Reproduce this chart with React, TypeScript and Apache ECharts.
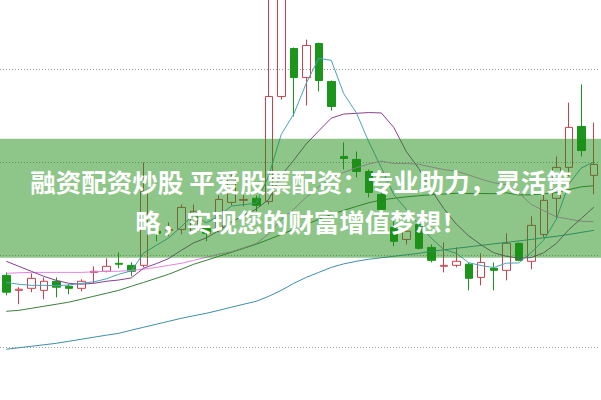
import React, { useEffect, useRef } from "react";
import * as echarts from "echarts";

const categories = [
  "03-01", "03-02", "03-03", "03-06", "03-07", "03-08", "03-09", "03-10",
  "03-13", "03-14", "03-15", "03-16", "03-17", "03-20", "03-21", "03-22",
  "03-23", "03-24", "03-27", "03-28", "03-29", "03-30", "03-31", "04-03",
  "04-04", "04-06", "04-07", "04-10", "04-11", "04-12", "04-13", "04-14",
  "04-17", "04-18", "04-19", "04-20", "04-21", "04-24", "04-25", "04-26",
  "04-27", "04-28", "05-04", "05-05", "05-08", "05-09", "05-10", "05-11",
];

const openValues = [
  23.89, 23.08, 23.19, 23.08, 23.57, 23.3, 23.19, 24.05, 24.11, 24.54, 24.43, 24.43,
  26.27, 26.32, 26.37, 26.27, 26.43, 26.37, 27.83, 27.94, 28.05, 27.88, 33.55, 36.14,
  34.57, 36.41, 34.36, 30.31, 30.15, 29.5, 28.26, 26.48, 25.83, 26.64, 25.4, 24.38,
  24.43, 24.49, 23.78, 24.27, 24.16, 25.62, 24.65, 26.1, 28.05, 29.72, 31.93, 29.29,
];
const closeValues = [
  22.98, 23.14, 23.73, 23.57, 23.25, 23.19, 23.57, 24.11, 24.38, 24.49, 24.11, 28.42,
  26.16, 26.37, 27.56, 27.35, 26.16, 27.99, 29.07, 27.99, 27.67, 33.55, 39.21, 34.57,
  36.3, 34.41, 33.01, 30.2, 29.5, 28.37, 27.45, 25.73, 26.27, 25.35, 24.7, 24.43,
  24.65, 23.73, 24.59, 24.16, 25.62, 24.7, 26.59, 27.94, 29.72, 31.88, 30.63, 29.88,
];
const lowValues = [
  22.81, 22.33, 22.98, 22.6, 22.7, 22.87, 23.03, 23.46, 24.05, 24.27, 23.84, 24.32,
  25.73, 26.0, 26.1, 26.16, 25.73, 26.21, 27.67, 27.61, 27.34, 27.72, 33.38, 32.47,
  33.06, 33.82, 32.79, 29.61, 29.18, 28.1, 27.29, 25.46, 25.56, 25.29, 24.59, 24.05,
  24.32, 23.08, 23.35, 23.08, 23.62, 24.65, 24.22, 25.94, 26.91, 29.23, 30.31, 28.26,
];
const highValues = [
  24.05, 23.25, 24.0, 23.78, 23.78, 23.41, 23.68, 24.38, 24.81, 25.13, 24.59, 29.99,
  26.43, 26.75, 27.72, 27.72, 26.59, 28.21, 29.34, 28.32, 28.21, 39.3, 39.59, 36.19,
  36.62, 36.46, 34.41, 31.07, 30.58, 29.61, 28.42, 26.81, 26.48, 26.81, 25.56, 25.67,
  25.4, 24.59, 25.08, 24.59, 26.16, 25.67, 27.08, 28.37, 30.31, 33.22, 34.2, 32.14,
];

const ma5 = [
  23.51, 23.41, 23.35, 23.35, 23.33, 23.37, 23.46, 23.54, 23.7, 23.95, 24.13, 25.1,
  25.51, 25.91, 26.52, 27.17, 26.72, 27.09, 27.63, 27.71, 27.78, 29.27, 31.5, 32.6,
  34.26, 35.61, 35.5, 33.7, 32.68, 31.1, 29.71, 28.25, 27.46, 26.63, 25.9, 25.29,
  25.08, 24.57, 24.42, 24.31, 24.55, 24.56, 25.13, 25.8, 26.91, 28.81, 29.69, 30.01,
];
const ma10 = [
  24.65, 24.38, 24.11, 23.84, 23.62, 23.46, 23.41, 23.46, 23.57, 23.64, 23.75, 24.28,
  24.52, 24.8, 25.24, 25.65, 25.91, 26.3, 26.77, 27.12, 27.47, 27.99, 29.29, 30.11,
  30.99, 31.69, 32.38, 32.6, 32.64, 32.68, 32.66, 31.88, 30.58, 29.66, 28.5, 27.5,
  26.66, 26.02, 25.53, 25.11, 24.92, 24.82, 24.85, 25.11, 25.61, 26.36, 26.96, 27.57,
];
const ma20 = [
  24.0, 24.03, 24.05, 24.05, 24.05, 24.05, 24.05, 24.08, 24.11, 24.11, 24.16, 24.22,
  24.32, 24.43, 24.54, 24.7, 24.86, 25.03, 25.16, 25.38, 25.61, 26.13, 26.91, 27.46,
  28.11, 28.67, 29.14, 29.45, 29.7, 29.9, 30.06, 29.93, 29.93, 29.89, 29.74, 29.6,
  29.52, 29.31, 29.08, 28.89, 28.79, 28.35, 27.72, 27.38, 27.05, 26.93, 26.81, 26.79,
];
const ma30 = [
  21.95, 22.0, 22.11, 22.22, 22.33, 22.44, 22.6, 22.76, 22.92, 23.08, 23.3, 23.51,
  23.73, 23.95, 24.22, 24.49, 24.7, 24.92, 25.13, 25.35, 25.57, 25.83, 26.1, 26.37,
  26.64, 26.91, 27.18, 27.4, 27.61, 27.81, 27.96, 28.05, 28.13, 28.19, 28.24, 28.28,
  28.32, 28.31, 28.31, 28.3, 28.35, 28.23, 28.24, 28.29, 28.36, 28.52, 28.67, 28.73,
];
const ma60 = [
  19.9, 19.98, 20.06, 20.14, 20.22, 20.33, 20.44, 20.55, 20.66, 20.76, 20.93, 21.09,
  21.25, 21.41, 21.57, 21.71, 21.84, 22.0, 22.17, 22.33, 22.49, 22.76, 23.08, 23.46,
  23.78, 24.05, 24.32, 24.51, 24.65, 24.76, 24.84, 24.92, 25.0, 25.08, 25.19, 25.27,
  25.35, 25.43, 25.51, 25.59, 25.67, 25.75, 25.83, 25.92, 26.0, 26.1, 26.21, 26.32,
];

const bannerLines = [
  "融资配资炒股 平爱股票配资：专业助力，灵活策",
  "略，实现您的财富增值梦想！",
];

const UP = "#c9434f";
const DOWN = "#1b951b";

// the chart canvas is taller than the window so that price gridlines fall where the reference shows them
const SHIFT = 22.7;
const CHART_H = 463.4;

export default function App() {
  const ref = useRef<HTMLDivElement>(null);

  useEffect(() => {
    if (!ref.current) return;
    const chart = echarts.init(ref.current, null, { renderer: "svg" });
    const kData = categories.map((_, i) => [
      openValues[i],
      closeValues[i],
      lowValues[i],
      highValues[i],
    ]);
    const lineSeries = (name: string, data: number[], color: string) => ({
      name,
      type: "line",
      data,
      symbol: "none",
      showSymbol: false,
      smooth: false,
      silent: true,
      lineStyle: { width: 1, color },
    });
    const textStyle = (text: string) => ({
      text,
      fill: "#ffffff",
      font: 'bold 25.5px "Noto Sans CJK SC"',
      textAlign: "center",
      textVerticalAlign: "middle",
      align: "center",
      verticalAlign: "middle",
    });
    chart.setOption({
      animation: false,
      grid: { left: -1, right: 1, top: 0, bottom: 0 },
      xAxis: {
        type: "category",
        data: categories,
        boundaryGap: true,
        show: false,
      },
      yAxis: {
        type: "value",
        min: 15,
        max: 40,
        interval: 5,
        axisLine: { show: false },
        axisTick: { show: false },
        axisLabel: { show: false },
        splitLine: {
          show: true,
          lineStyle: { color: "#9a9a9a", type: [1, 2], width: 1 },
        },
      },
      series: [
        {
          name: "K",
          type: "candlestick",
          data: kData,
          barWidth: 8,
          silent: true,
          itemStyle: {
            color: "rgba(0,0,0,0)",
            color0: DOWN,
            borderColor: UP,
            borderColor0: DOWN,
            borderWidth: 1,
          },
        },
        lineSeries("MA60", ma60, "#3f8fa6"),
        lineSeries("MA30", ma30, "#3c7f3c"),
        lineSeries("MA20", ma20, "#e285e2"),
        lineSeries("MA10", ma10, "#8a3f8f"),
        lineSeries("MA5", ma5, "#4aa3b8"),
      ],
      graphic: [
        {
          type: "rect",
          z: 100,
          shape: { x: 0, y: 139 + SHIFT, width: 601, height: 119 },
          style: { fill: "rgba(30,140,20,0.5)" },
        },
        {
          type: "text",
          z: 101,
          x: 301,
          y: 181 + SHIFT,
          style: textStyle(bannerLines[0]),
        },
        {
          type: "text",
          z: 101,
          x: 301,
          y: 221 + SHIFT,
          style: textStyle(bannerLines[1]),
        },
      ],
    });
    return () => chart.dispose();
  }, []);

  return (
    <div
      style={{
        position: "fixed",
        left: 0,
        top: 0,
        width: 601,
        height: 400,
        overflow: "hidden",
        background: "#fff",
      }}
    >
      <div
        ref={ref}
        style={{ position: "absolute", left: 0, top: -SHIFT, width: 601, height: CHART_H }}
      />
    </div>
  );
}
